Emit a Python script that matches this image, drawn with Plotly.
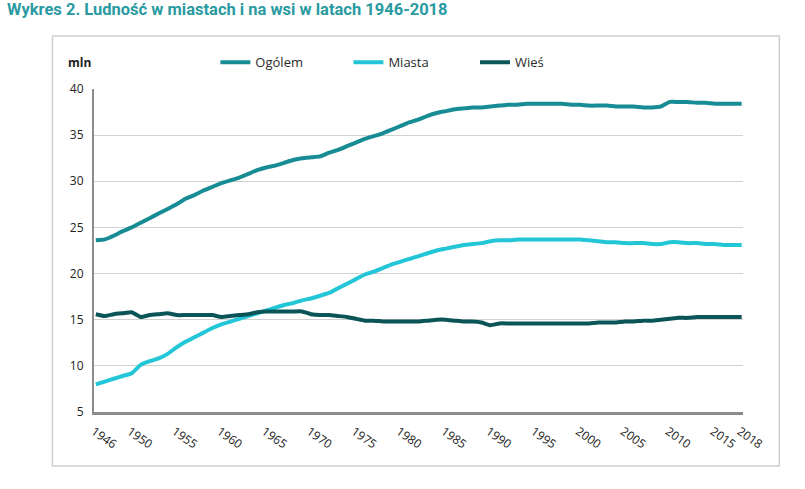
import plotly.graph_objects as go

years = list(range(1946, 2019))

ogolem = [
    23.6, 23.7, 24.1, 24.6,                                  # 1946-1949
    25.0, 25.5, 26.0, 26.5, 27.0, 27.5, 28.1, 28.5, 29.0, 29.4,  # 1950-1959
    29.8, 30.1, 30.4, 30.8, 31.2, 31.5, 31.7, 32.0, 32.3, 32.5,  # 1960-1969
    32.6, 32.7, 33.1, 33.4, 33.8, 34.2, 34.6, 34.9, 35.2, 35.6,  # 1970-1979
    36.0, 36.4, 36.7, 37.1, 37.4, 37.6, 37.8, 37.9, 38.0, 38.0,  # 1980-1989
    38.1, 38.2, 38.3, 38.3, 38.4, 38.4, 38.4, 38.4, 38.4, 38.3,  # 1990-1999
    38.3, 38.2, 38.2, 38.2, 38.1, 38.1, 38.1, 38.0, 38.0, 38.1,  # 2000-2009
    38.6, 38.6, 38.6, 38.5, 38.5, 38.4, 38.4, 38.4, 38.4,        # 2010-2018
]

miasta = [
    8.0, 8.3, 8.6, 8.9,
    9.2, 10.1, 10.5, 10.8, 11.3, 12.0, 12.6, 13.1, 13.6, 14.1,
    14.5, 14.8, 15.1, 15.4, 15.7, 16.0, 16.3, 16.6, 16.8, 17.1,
    17.3, 17.6, 17.9, 18.4, 18.9, 19.4, 19.9, 20.2, 20.6, 21.0,
    21.3, 21.6, 21.9, 22.2, 22.5, 22.7, 22.9, 23.1, 23.2, 23.3,
    23.5, 23.6, 23.6, 23.7, 23.7, 23.7, 23.7, 23.7, 23.7, 23.7,
    23.7, 23.6, 23.5, 23.4, 23.4, 23.3, 23.3, 23.3, 23.2, 23.2,
    23.4, 23.4, 23.3, 23.3, 23.2, 23.2, 23.1, 23.1, 23.1,
]

wies = [
    15.6, 15.4, 15.6, 15.7,
    15.8, 15.3, 15.5, 15.6, 15.7, 15.5, 15.5, 15.5, 15.5, 15.5,
    15.3, 15.4, 15.5, 15.6, 15.8, 15.9, 15.9, 15.9, 15.9, 15.9,
    15.6, 15.5, 15.5, 15.4, 15.3, 15.1, 14.9, 14.9, 14.8, 14.8,
    14.8, 14.8, 14.8, 14.9, 15.0, 15.0, 14.9, 14.8, 14.8, 14.7,
    14.4, 14.6, 14.6, 14.6, 14.6, 14.6, 14.6, 14.6, 14.6, 14.6,
    14.6, 14.6, 14.7, 14.7, 14.7, 14.8, 14.8, 14.9, 14.9, 15.0,
    15.1, 15.2, 15.2, 15.3, 15.3, 15.3, 15.3, 15.3, 15.3,
]

tick_years = [1946, 1950, 1955, 1960, 1965, 1970, 1975, 1980, 1985,
              1990, 1995, 2000, 2005, 2010, 2015, 2018]

series_names = ["Ogólem", "Miasta", "Wieś"]
series_colors = ["#178c95", "#22c6d6", "#0b5558"]
series_values = [ogolem, miasta, wies]
legend_ids = ["legend", "legend2", "legend3"]
legend_x = [0.187, 0.392, 0.587]

title_text = "Wykres 2. Ludność w miastach i na wsi w latach 1946-2018"
unit_text = "mln"

fig = go.Figure()
for name, color, vals, lg in zip(series_names, series_colors, series_values, legend_ids):
    fig.add_trace(go.Scatter(
        x=years, y=vals, mode="lines", name=name, legend=lg,
        line=dict(color=color, width=4, shape="spline", smoothing=0.4),
    ))

legend_common = dict(
    orientation="h", yanchor="middle", y=1.083, xanchor="left",
    font=dict(family="Open Sans", size=13, color="#2a2a2a"),
    bgcolor="rgba(0,0,0,0)", borderwidth=0, itemwidth=30,
)

fig.update_layout(
    width=805, height=489,
    margin=dict(l=94, r=62, t=89, b=77),
    paper_bgcolor="white", plot_bgcolor="white",
    showlegend=True,
    legend=dict(x=legend_x[0], **legend_common),
    legend2=dict(x=legend_x[1], **legend_common),
    legend3=dict(x=legend_x[2], **legend_common),
    xaxis=dict(
        range=[1945.8, 2018.15],
        tickmode="array", tickvals=tick_years,
        ticktext=[str(y) for y in tick_years],
        tickangle=35, ticklabelshift=-2, ticklabelstandoff=5,
        tickfont=dict(family="Open Sans", size=12, color="#222222"),
        showgrid=False, zeroline=False,
        showline=True, linecolor="#8c8c8c", linewidth=3,
        ticks="",
    ),
    yaxis=dict(
        range=[5, 40], dtick=5, tick0=5,
        tickfont=dict(family="Open Sans", size=12, color="#222222"),
        showgrid=True, gridcolor="#d2d2d2", gridwidth=1.3,
        zeroline=False,
        showline=True, linecolor="#8c8c8c", linewidth=2,
        ticks="", ticklabelstandoff=6,
    ),
    annotations=[
        dict(text=f"<b>{title_text}</b>", xref="paper", yref="paper",
             x=-0.137, y=1.245, xanchor="left", yanchor="middle", showarrow=False,
             font=dict(family="Roboto", size=16.5, color="#2a9aa2")),
        dict(text=f"<b>{unit_text}</b>", xref="paper", yref="paper",
             x=-0.043, y=1.083, xanchor="left", yanchor="middle", showarrow=False,
             font=dict(family="Open Sans", size=12, color="#222222")),
    ],
    shapes=[
        dict(type="rect", xref="paper", yref="paper",
             x0=-0.064, x1=1.056, y0=-0.167, y1=1.164,
             line=dict(color="#d0d0d0", width=1.5), fillcolor="rgba(0,0,0,0)",
             layer="below"),
    ],
)

fig.write_html("out.html", config={"displayModeBar": False},
               post_script="document.body.style.margin='0';")
